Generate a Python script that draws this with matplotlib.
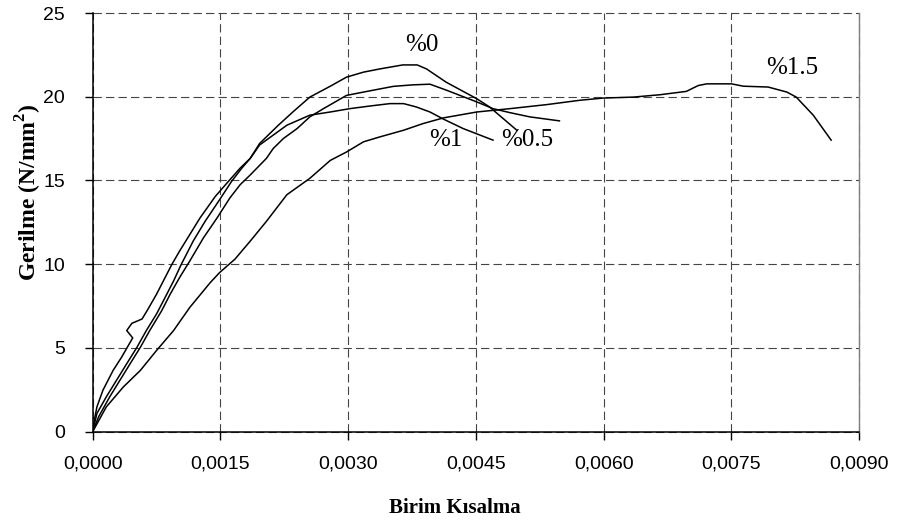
import matplotlib
matplotlib.use("Agg")
import matplotlib.pyplot as plt

# strain / stress readings per fibre ratio
eps_0 = [0, 0.00005, 0.00016, 0.00028, 0.0004, 0.00052, 0.00063, 0.00075, 0.00085,
         0.00095, 0.00104, 0.00112, 0.00118, 0.00132, 0.00149, 0.00163, 0.00175,
         0.00185, 0.00196, 0.00218, 0.00235, 0.00255, 0.00279, 0.00298, 0.00318,
         0.00337, 0.00364, 0.00381, 0.00392, 0.00415, 0.00451, 0.00466, 0.00498]
sig_0 = [0, 1.09, 2.08, 3.07, 4.06, 5.04, 6.04, 7.03, 8.01, 9.0, 9.99, 10.78, 11.38,
         12.56, 13.85, 14.94, 15.73, 16.32, 17.21, 18.3, 19.09, 19.98, 20.63, 21.17,
         21.47, 21.66, 21.9, 21.9, 21.66, 20.87, 19.88, 19.39, 18.0]

eps_1 = [0, 0.00002, 0.00005, 0.00012, 0.00024, 0.00034, 0.00047, 0.0004, 0.00046,
         0.00058, 0.00065, 0.00075, 0.00085, 0.00093, 0.00102, 0.00114, 0.00126,
         0.00144, 0.00161, 0.00173, 0.00185, 0.00196, 0.00228, 0.00255, 0.00279,
         0.00302, 0.00326, 0.00349, 0.00365, 0.0038, 0.00396, 0.00412, 0.00435, 0.0047]
sig_1 = [0, 0.7, 1.48, 2.47, 3.66, 4.45, 5.6, 6.04, 6.47, 6.73, 7.32, 8.21, 9.2, 9.99,
         10.78, 11.77, 12.76, 14.05, 15.04, 15.73, 16.32, 17.12, 18.3, 18.9, 19.09,
         19.29, 19.45, 19.59, 19.59, 19.39, 19.09, 18.66, 18.1, 17.41]

eps_05 = [0, 0.00007, 0.0002, 0.00032, 0.00044, 0.00056, 0.00067, 0.00081, 0.00091,
          0.00102, 0.00114, 0.0013, 0.00146, 0.00161, 0.00173, 0.00185, 0.00204,
          0.00212, 0.00224, 0.0024, 0.00255, 0.00271, 0.00298, 0.00318, 0.00353,
          0.00376, 0.00396, 0.00416, 0.00451, 0.0047, 0.0049, 0.00513, 0.00548]
sig_05 = [0, 0.89, 2.08, 3.07, 4.06, 5.04, 6.04, 7.22, 8.21, 9.2, 10.19, 11.57, 12.76,
          13.95, 14.74, 15.33, 16.32, 16.91, 17.51, 18.1, 18.8, 19.29, 20.08, 20.28,
          20.62, 20.71, 20.75, 20.38, 19.69, 19.29, 19.05, 18.8, 18.56]

eps_15 = [0, 0.00016, 0.00036, 0.00056, 0.00075, 0.00095, 0.00114, 0.00138, 0.00149,
          0.00167, 0.00185, 0.00204, 0.00228, 0.00255, 0.00279, 0.00298, 0.00318,
          0.00337, 0.00365, 0.00388, 0.00412, 0.00451, 0.0049, 0.00533, 0.00572,
          0.00599, 0.00635, 0.00666, 0.00697, 0.00711, 0.00721, 0.0075, 0.00764,
          0.00793, 0.00815, 0.00826, 0.00846, 0.00867]
sig_15 = [0, 1.48, 2.67, 3.66, 4.85, 6.04, 7.42, 8.9, 9.5, 10.3, 11.38, 12.56, 14.15,
          15.13, 16.2, 16.7, 17.31, 17.6, 18.0, 18.4, 18.74, 19.09, 19.29, 19.53, 19.79,
          19.92, 19.98, 20.12, 20.32, 20.67, 20.77, 20.77, 20.63, 20.58, 20.28, 19.98,
          18.9, 17.41]

curve_labels = ["%0", "%1", "%0.5", "%1.5"]
label_pos = [(0.00387, 23.1), (0.00415, 17.4), (0.0051, 17.4), (0.00821, 21.7)]

x_ticks = [0, 0.0015, 0.003, 0.0045, 0.006, 0.0075, 0.009]
x_ticklabels = ["0,0000", "0,0015", "0,0030", "0,0045", "0,0060", "0,0075", "0,0090"]
y_ticks = [0, 5, 10, 15, 20, 25]

plt.rcParams["lines.scale_dashes"] = False

fig = plt.figure(figsize=(9.04, 5.31), dpi=100)
ax = fig.add_axes([0.1025, 0.187, 0.848, 0.7885])

for e, s in [(eps_0, sig_0), (eps_1, sig_1), (eps_05, sig_05), (eps_15, sig_15)]:
    ax.plot(e, s, color="black", lw=1.1, zorder=3)

for txt, (x, y) in zip(curve_labels, label_pos):
    ax.text(x, y, txt, family="Liberation Serif", fontsize=18,
            ha="center", va="center", zorder=4)

ax.set_xlim(0, 0.009)
ax.set_ylim(0, 25)
ax.set_xticks(x_ticks)
ax.set_xticklabels(x_ticklabels)
ax.set_yticks(y_ticks)
for t in ax.get_xticklabels() + ax.get_yticklabels():
    t.set_family("Liberation Sans")
    t.set_fontsize(14)
ax.tick_params(direction="out", length=6, width=1, color="black")
ax.tick_params(axis="x", pad=11)
ax.tick_params(axis="y", pad=14)

ax.grid(True, color="#444444", lw=0.8, linestyle=(0, (6, 3)), clip_on=False)
ax.set_axisbelow(True)

ax.spines["left"].set_linewidth(1.1)
ax.spines["bottom"].set_linewidth(1.1)
ax.spines["top"].set_visible(False)
ax.spines["right"].set_color("#808080")
ax.spines["right"].set_linewidth(1.0)

fig.text(29 / 904, 1 - 192 / 531, "Gerilme (N/mm$^\\mathregular{2}$)", rotation=90,
         family="Liberation Serif", fontweight="bold", fontsize=17,
         ha="center", va="center")
fig.text(455 / 904, 1 - 508 / 531, "Birim Kısalma", family="Liberation Serif",
         fontweight="bold", fontsize=15, ha="center", va="center")

fig.savefig("out.png", dpi=100)
